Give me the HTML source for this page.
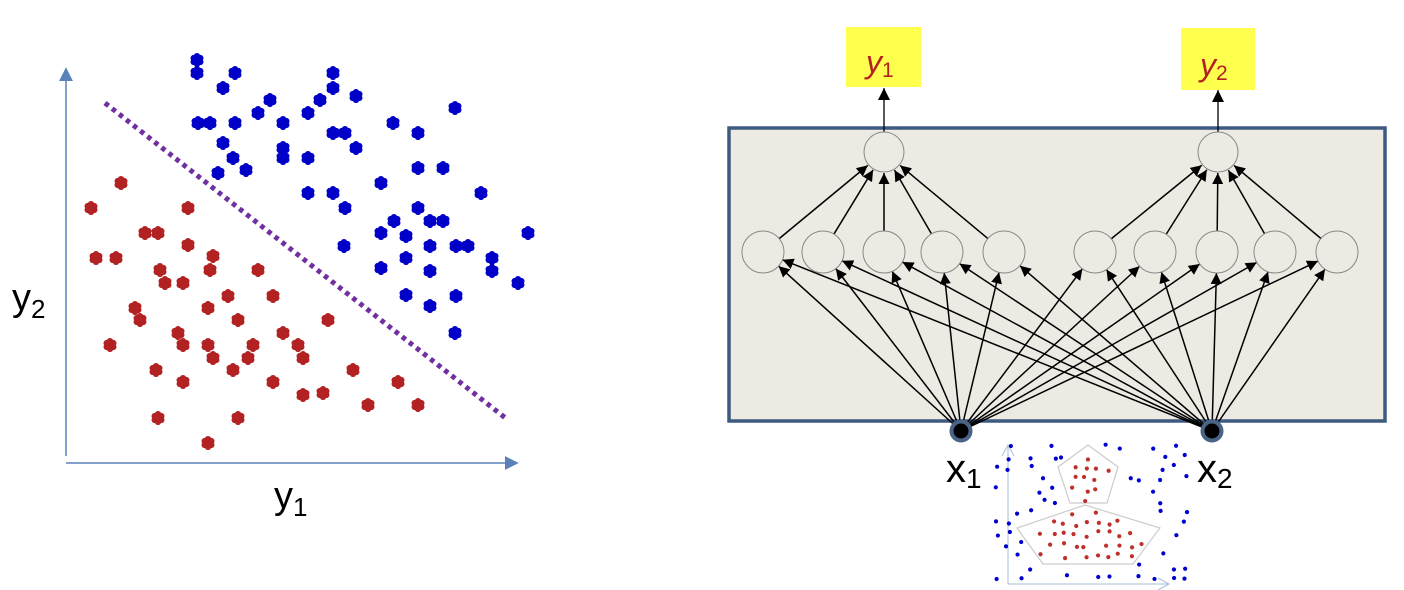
<!DOCTYPE html>
<html><head><meta charset="utf-8"><style>
html,body{margin:0;padding:0;background:#fff;width:1404px;height:590px;overflow:hidden}
svg{display:block}
text{font-family:"Liberation Sans",sans-serif}
</style></head><body>
<svg id="s" width="1404" height="590" viewBox="0 0 1404 590" xmlns="http://www.w3.org/2000/svg">
<defs>
<marker id="ar" viewBox="0 0 10 10" refX="10" refY="5" markerWidth="11" markerHeight="11" orient="auto" markerUnits="userSpaceOnUse"><path d="M0,0 L10,5 L0,10 z" fill="#000"/></marker>
<marker id="ar2" viewBox="0 0 10 10" refX="10" refY="5" markerWidth="12" markerHeight="12" orient="auto" markerUnits="userSpaceOnUse"><path d="M0,0 L10,5 L0,10 z" fill="#000"/></marker>
<marker id="ab" viewBox="0 0 10 10" refX="8" refY="5" markerWidth="14" markerHeight="14" orient="auto" markerUnits="userSpaceOnUse"><path d="M0,0 L10,5 L0,10 z" fill="#5b82b8"/></marker>
</defs>
<line x1="66" y1="456" x2="66" y2="70" stroke="#5b82b8" stroke-width="1.5" marker-end="url(#ab)"/>
<line x1="66" y1="463" x2="516" y2="463" stroke="#5b82b8" stroke-width="1.5" marker-end="url(#ab)"/>
<line x1="105" y1="103" x2="508" y2="420" stroke="#7030a0" stroke-width="5" stroke-dasharray="4.5,4.5"/>
<text x="12" y="310" font-size="38">y<tspan font-size="26" dy="8">2</tspan></text>
<text x="274" y="508" font-size="38">y<tspan font-size="26" dy="8">1</tspan></text>
<g id="blue" fill="#0000c8"></g>
<g id="red" fill="#b22222"></g>
<rect x="729" y="128" width="656" height="293" fill="#edeae3" stroke="#3e5a80" stroke-width="3.5"/>
<rect x="846" y="27" width="75" height="60" fill="#ffff4d"/>
<rect x="1181" y="28" width="74" height="62" fill="#ffff4d"/>
<text x="866" y="73" font-size="32" font-style="italic" fill="#b22222" font-family="Liberation Serif,serif">y<tspan font-size="21" font-style="normal" dy="4">1</tspan></text>
<text x="1200" y="76" font-size="32" font-style="italic" fill="#b22222" font-family="Liberation Serif,serif">y<tspan font-size="21" font-style="normal" dy="4">2</tspan></text>
<line x1="884" y1="133" x2="884" y2="88" stroke="#000" stroke-width="1.3" marker-end="url(#ar2)"/>
<line x1="1218" y1="133" x2="1218" y2="90" stroke="#000" stroke-width="1.3" marker-end="url(#ar2)"/>
<g id="edges" stroke="#000" stroke-width="1.5"></g>
<g id="nodes" fill="#edeae3" stroke="#888" stroke-width="1"></g>
<circle cx="961" cy="431" r="9.5" fill="#000" stroke="#4a6487" stroke-width="4"/>
<circle cx="1212" cy="431" r="9.5" fill="#000" stroke="#4a6487" stroke-width="4"/>
<text x="946" y="482" font-size="40">x<tspan font-size="28" dy="6">1</tspan></text>
<text x="1197" y="482" font-size="40">x<tspan font-size="28" dy="6">2</tspan></text>
<line x1="1008" y1="584" x2="1008" y2="446" stroke="#a8bfdc" stroke-width="1"/>
<polyline points="1002,456 1008,445 1014,456" fill="none" stroke="#a8bfdc"/>
<line x1="1008" y1="584" x2="1168" y2="584" stroke="#a8bfdc" stroke-width="1"/>
<polyline points="1158,578 1169,584 1158,590" fill="none" stroke="#a8bfdc"/>
<polygon points="1088,445 1118,467 1107,503 1070,503 1058,467" fill="none" stroke="#ccc" stroke-width="1.2"/>
<polygon points="1085,505 1160,528 1133,564 1043,564 1017,528" fill="none" stroke="#ccc" stroke-width="1.2"/>
<g id="mini"></g>
</svg>
<script>
var NS="http://www.w3.org/2000/svg";
function el(p,t,a){var e=document.createElementNS(NS,t);for(var k in a)e.setAttribute(k,a[k]);document.getElementById(p).appendChild(e);return e;}
function flower(p,x,y){for(var i=0;i<6;i++){var a=i*Math.PI/3+Math.PI/6;el(p,'circle',{cx:x+3.8*Math.cos(a),cy:y+3.8*Math.sin(a),r:3.2});}el(p,'circle',{cx:x,cy:y,r:5});}
var B=[[197,60],[197,73],[235,73],[223,88],[270,100],[333,73],[333,88],[320,100],[308,113],[356,96],[258,113],[198,123],[210,123],[235,123],[283,123],[333,133],[345,133],[393,123],[418,133],[455,108],[223,143],[283,148],[283,158],[308,158],[356,148],[233,158],[246,170],[218,173],[308,193],[333,193],[345,208],[381,183],[418,168],[443,168],[481,193],[394,221],[418,208],[430,221],[443,221],[406,236],[381,233],[468,246],[456,246],[344,246],[430,246],[492,258],[381,268],[406,258],[430,271],[492,271],[518,283],[406,295],[430,306],[456,296],[455,333],[528,233]];
var R=[[121,183],[91,208],[188,208],[145,233],[158,233],[96,258],[116,258],[188,245],[213,256],[210,270],[160,270],[165,283],[183,283],[258,270],[135,308],[140,320],[208,308],[178,333],[183,345],[228,296],[238,320],[273,296],[328,320],[110,345],[208,345],[213,358],[253,345],[283,333],[298,345],[303,358],[156,370],[183,382],[233,370],[273,382],[353,370],[398,382],[303,395],[323,393],[368,405],[418,405],[158,418],[238,418],[208,443],[248,358]];
B.forEach(function(p){flower('blue',p[0],p[1]);});R.forEach(function(p){flower('red',p[0],p[1]);});
var H=[763,823,884,942,1004,1095,1155,1217,1275,1337],hy=252,r=21;
var I=[[961,431],[1212,431]];
H.forEach(function(hx,j){
 I.forEach(function(ip){var dx=hx-ip[0],dy=hy-ip[1],d=Math.hypot(dx,dy);
  el('edges','line',{x1:ip[0],y1:ip[1],x2:hx-dx/d*r,y2:hy-dy/d*r,'marker-end':'url(#ar)'});});
 var ox=j<5?884:1218,oy=152;var dx=ox-hx,dy=oy-hy,d=Math.hypot(dx,dy);
 el('edges','line',{x1:hx+dx/d*r,y1:hy+dy/d*r,x2:ox-dx/d*r,y2:oy-dy/d*r,'marker-end':'url(#ar)'});
 el('nodes','ellipse',{cx:hx,cy:hy,rx:21,ry:21});
});
el('nodes','ellipse',{cx:884,cy:152,rx:20,ry:20});el('nodes','ellipse',{cx:1218,cy:152,rx:20,ry:20});
var s=12345;function rnd(){s|=0;s=s+0x6D2B79F5|0;var t=Math.imul(s^s>>>15,1|s);t=t+Math.imul(t^t>>>7,61|t)^t;return((t^t>>>14)>>>0)/4294967296;}
function inPoly(x,y,P){var c=false;for(var i=0,j=P.length-1;i<P.length;j=i++){if(((P[i][1]>y)!=(P[j][1]>y))&&(x<(P[j][0]-P[i][0])*(y-P[i][1])/(P[j][1]-P[i][1])+P[i][0]))c=!c;}return c;}
var P1=[[1088,445],[1118,467],[1107,503],[1070,503],[1058,467]],P2=[[1085,505],[1160,528],[1133,564],[1043,564],[1017,528]];
function inAny(x,y){return inPoly(x,y,P1)||inPoly(x,y,P2);}
for(var gy=446;gy<584;gy+=11){for(var gx=998;gx<1188;gx+=11){
 var x=gx+(rnd()-0.5)*6,y=gy+(rnd()-0.5)*6;
 if(inAny(x,y)){ if(inAny(x-4,y)&&inAny(x+4,y)&&inAny(x,y-4)&&inAny(x,y+4)&&rnd()<0.85) el('mini','circle',{cx:x,cy:y,r:2.1,fill:'#c0302a'});}
 else if(!inAny(x+5,y)&&!inAny(x-5,y)&&!inAny(x,y+5)&&!inAny(x,y-5)&&rnd()<0.45) el('mini','circle',{cx:x,cy:y,r:2.1,fill:'#0000d0'});
}}
</script>
</body></html>
